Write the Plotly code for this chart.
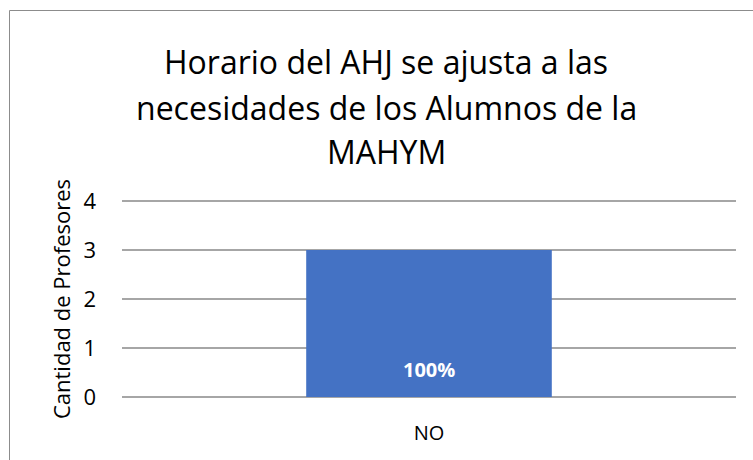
import plotly.graph_objects as go

# Chart data
categories = ["NO"]
counts = [3]
title_lines = [
    "Horario del AHJ se ajusta a las",
    "necesidades de los Alumnos de la",
    "MAHYM",
]
y_ticks = [0, 1, 2, 3, 4]

total = sum(counts)
pct_labels = [f"{round(100 * c / total)}%" for c in counts]

W, H = 753, 460
L, R, T, B = 122, 17, 199, 61
plot_w = W - L - R
plot_h = H - T - B
unit_px = 49.0
pad = (plot_h - 4 * unit_px) / 2 / unit_px  # keeps the 0 and 4 gridlines inside the plot

def px_x(px):
    return (px - L) / plot_w

def px_y(py):
    return (H - B - py) / plot_h

fig = go.Figure()
fig.add_trace(go.Bar(
    x=categories,
    y=counts,
    marker=dict(color="#4472C4", line=dict(width=0)),
    width=0.4,
    hoverinfo="skip",
))

# Percentage labels near the base of each bar
for cat, lab in zip(categories, pct_labels):
    fig.add_annotation(
        x=cat, y=0, xref="x", yref="y",
        text=f"<b>{lab}</b>", showarrow=False,
        yanchor="bottom", yshift=12,
        font=dict(family="Open Sans", size=20, color="white"),
    )

# Title, one annotation per line
title_y = [61, 108, 152]
for line, py in zip(title_lines, title_y):
    fig.add_annotation(
        x=px_x(386), y=px_y(py), xref="paper", yref="paper",
        text=line, showarrow=False, xanchor="center", yanchor="middle",
        font=dict(family="Open Sans", size=32, color="#000000"),
    )

# Chart frame
fig.add_shape(
    type="rect", xref="paper", yref="paper",
    x0=px_x(9.5), x1=px_x(800), y0=px_y(520), y1=px_y(10.5),
    line=dict(color="#8C8C8C", width=1), fillcolor="rgba(0,0,0,0)",
    layer="below",
)

fig.update_layout(
    width=W, height=H,
    margin=dict(l=L, r=R, t=T, b=B),
    paper_bgcolor="white", plot_bgcolor="white",
    showlegend=False,
    font=dict(family="Open Sans", color="#000000"),
)
fig.update_xaxes(
    showgrid=False, showline=False, zeroline=False,
    tickfont=dict(size=20, color="#000000"),
    ticks="", ticklabelstandoff=20,
)
fig.update_yaxes(
    range=[-pad, 4 + pad], tickvals=y_ticks,
    showgrid=True, gridcolor="#A6A6A6", gridwidth=1.5,
    zeroline=True, zerolinecolor="#A6A6A6", zerolinewidth=1.5,
    showline=False, ticks="",
    tickfont=dict(size=22, color="#000000"),
    ticklabelstandoff=25,
    title=dict(text="Cantidad de Profesores", font=dict(size=22, color="#000000"), standoff=6),
)

fig.write_html("out.html")
